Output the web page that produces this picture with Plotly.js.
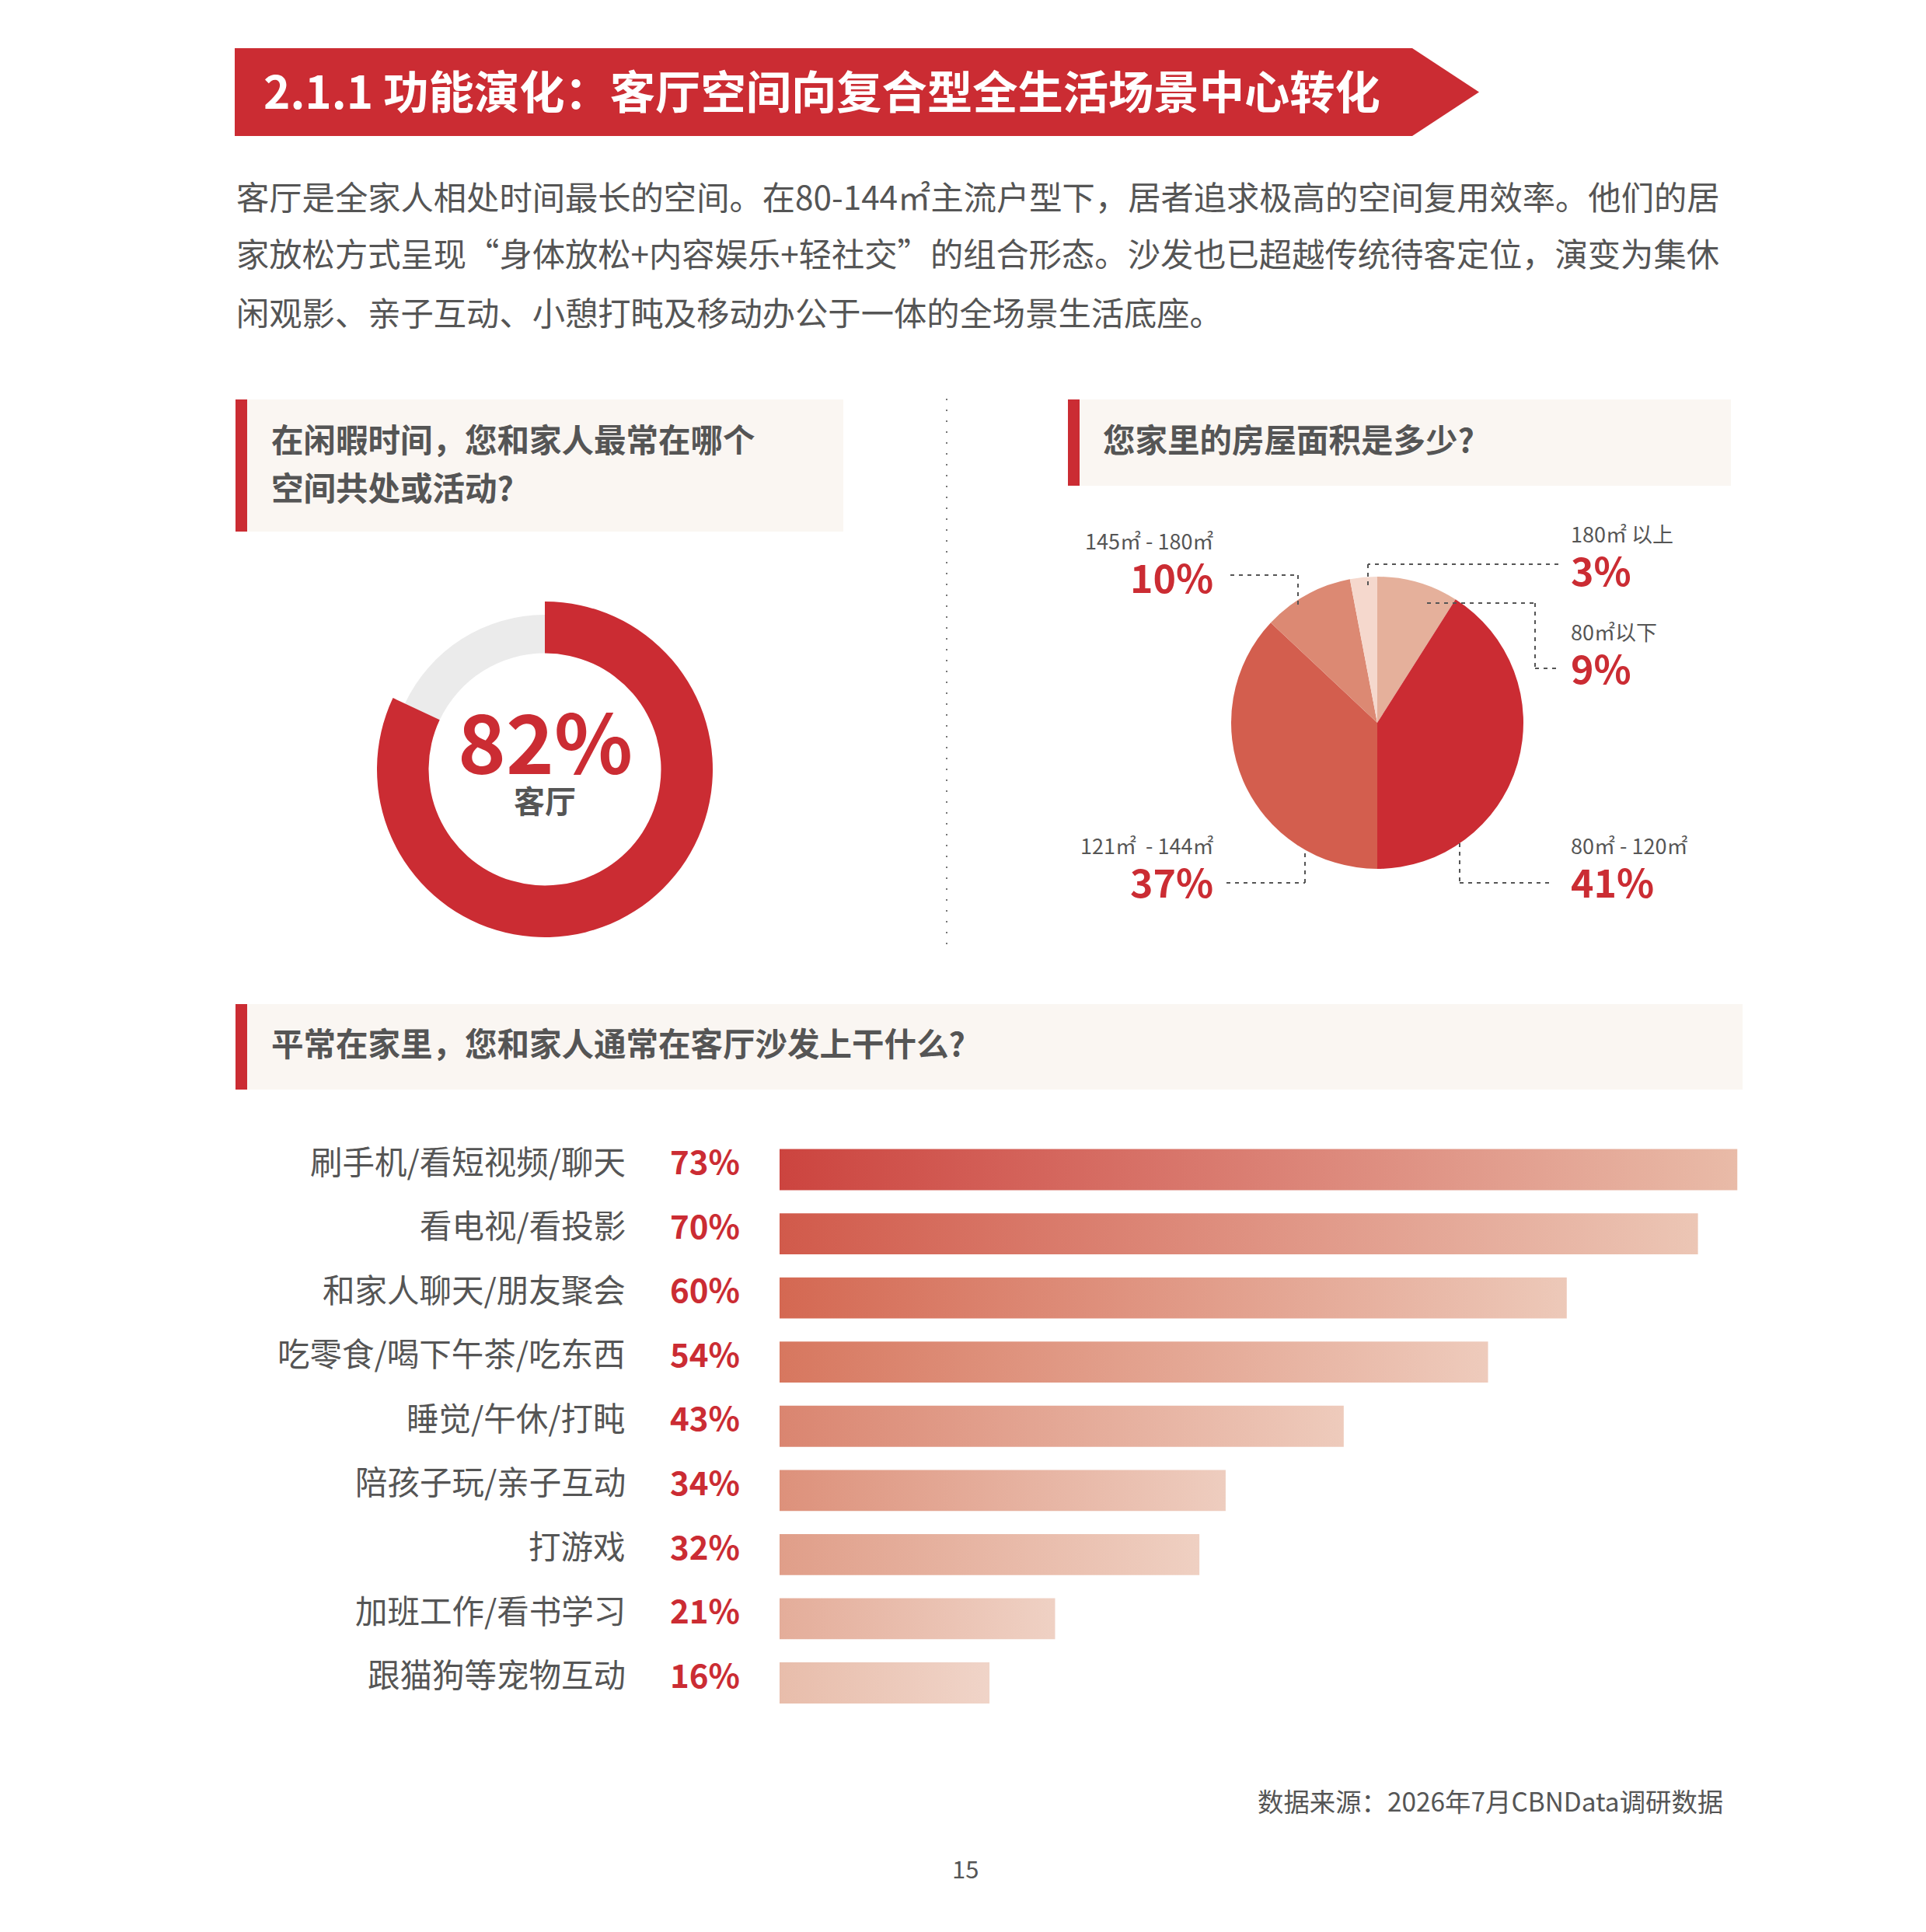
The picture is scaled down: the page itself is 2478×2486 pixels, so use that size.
<!DOCTYPE html>
<html>
<head>
<meta charset="utf-8">
<script src="https://cdn.plot.ly/plotly-3.0.1.min.js"></script>
<style>
  html, body { margin: 0; padding: 0; background: #fff; }
  #chart { width: 2478px; height: 2486px; }
</style>
</head>
<body>
<div id="chart"></div>
<script>
var W = 2478, H = 2486;
var FONT = '"Noto Sans CJK SC", "Noto Sans", sans-serif';
var RED = '#cb2c33';
var GREY_TEXT = '#555555';

// donut: share of families spending free time in the living room
var donutValue = 82;
var donutLabel = '客厅';

// pie: home size (clockwise from 12 o'clock)
var areaLabels = ['80㎡以下', '80㎡ - 120㎡', '121㎡  - 144㎡', '145㎡ - 180㎡', '180㎡ 以上'];
var areaValues = [9, 41, 37, 10, 3];
var areaColors = ['#e5b09b', '#cb2c33', '#d35e4e', '#dc8973', '#f5d8cd'];

// bars: what families do on the sofa
var activities = ['刷手机/看短视频/聊天', '看电视/看投影', '和家人聊天/朋友聚会', '吃零食/喝下午茶/吃东西',
  '睡觉/午休/打盹', '陪孩子玩/亲子互动', '打游戏', '加班工作/看书学习', '跟猫狗等宠物互动'];
var activityValues = [73, 70, 60, 54, 43, 34, 32, 21, 16];
var barStart = ['#cc443f', '#d15a4b', '#d46852', '#d7775f', '#da8570', '#dd917b', '#e09e89', '#e4ad9a', '#e8bdab'];
var barEnd = ['#e9bba8', '#ecc6b5', '#edc9b9', '#eecbbc', '#eecbbc', '#eecdbf', '#efd0c2', '#efd1c4', '#f0d4c8'];

function px(x) { return x / W; }
function py(y) { return 1 - y / H; }

var traces = [];

// donut: thin grey remainder + thick red arc
traces.push({
  type: 'pie', values: [donutValue, 100 - donutValue], sort: false, direction: 'clockwise',
  marker: { colors: ['rgba(0,0,0,0)', '#ebebeb'], line: { width: 0 } },
  hole: 149.5 / 199, textinfo: 'none', hoverinfo: 'skip',
  domain: { x: [px(701 - 199), px(701 + 199)], y: [py(990 + 199), py(990 - 199)] }
});
traces.push({
  type: 'pie', values: [donutValue, 100 - donutValue], sort: false, direction: 'clockwise',
  marker: { colors: [RED, 'rgba(0,0,0,0)'], line: { width: 0 } },
  hole: 149.5 / 216, textinfo: 'none', hoverinfo: 'skip',
  domain: { x: [px(701 - 216), px(701 + 216)], y: [py(990 + 216), py(990 - 216)] }
});

// pie
traces.push({
  type: 'pie', values: areaValues, labels: areaLabels, sort: false, direction: 'clockwise',
  marker: { colors: areaColors, line: { width: 0 } },
  textinfo: 'none', hoverinfo: 'skip',
  domain: { x: [px(1772 - 188), px(1772 + 188)], y: [py(930 + 188), py(930 - 188)] }
});

// gradient bars as filled shapes on the bar axes
var half = 0.32;
activityValues.forEach(function (v, i) {
  traces.push({
    type: 'scatter', mode: 'lines', xaxis: 'x', yaxis: 'y',
    x: [0, v, v, 0, 0],
    y: [i - half, i - half, i + half, i + half, i - half],
    fill: 'toself', line: { width: 0 }, hoverinfo: 'skip',
    fillgradient: { type: 'horizontal', colorscale: [[0, barStart[i]], [1, barEnd[i]]] }
  });
});

var shapes = [];
function rect(x0, y0, x1, y1, color) {
  shapes.push({ type: 'rect', xref: 'paper', yref: 'paper', x0: px(x0), x1: px(x1), y0: py(y1), y1: py(y0),
    fillcolor: color, line: { width: 0 }, layer: 'below' });
}
function seg(x0, y0, x1, y1, color, dash) {
  shapes.push({ type: 'line', xref: 'paper', yref: 'paper', x0: px(x0), x1: px(x1), y0: py(y0), y1: py(y1),
    line: { color: color, width: 2, dash: dash } });
}

// banner
shapes.push({
  type: 'path', xref: 'paper', yref: 'paper', fillcolor: RED, line: { width: 0 }, layer: 'below',
  path: 'M ' + px(302) + ',' + py(62) + ' L ' + px(1817) + ',' + py(62) + ' L ' + px(1903) + ',' + py(118.5) +
    ' L ' + px(1817) + ',' + py(175) + ' L ' + px(302) + ',' + py(175) + ' Z'
});

// question boxes
rect(303, 514, 1085, 684, '#faf6f2'); rect(303, 514, 318, 684, RED);
rect(1374, 514, 2227, 625, '#faf6f2'); rect(1374, 514, 1389, 625, RED);
rect(303, 1292, 2242, 1402, '#faf6f2'); rect(303, 1292, 318, 1402, RED);

// divider
seg(1218, 513, 1218, 1218, '#777777', '2px,12px');

// pie leaders
var LD = '5px,6px';
seg(1583, 740, 1670, 740, GREY_TEXT, LD); seg(1670, 740, 1670, 782, GREY_TEXT, LD);
seg(2005, 726, 1760, 726, GREY_TEXT, LD); seg(1760, 726, 1760, 757, GREY_TEXT, LD);
seg(1836, 776, 1975, 776, GREY_TEXT, LD); seg(1975, 776, 1975, 860, GREY_TEXT, LD); seg(1975, 860, 2005, 860, GREY_TEXT, LD);
seg(1578, 1136, 1679, 1136, GREY_TEXT, LD); seg(1679, 1136, 1679, 1093, GREY_TEXT, LD);
seg(1878, 1085, 1878, 1136, GREY_TEXT, LD); seg(1878, 1136, 1996, 1136, GREY_TEXT, LD);

var annotations = [];
function txt(s, x, y, size, color, anchor, bold) {
  annotations.push({ text: bold ? '<b>' + s + '</b>' : s, xref: 'paper', yref: 'paper', x: px(x), y: py(y),
    xanchor: anchor, yanchor: 'middle', showarrow: false, borderpad: 0,
    font: { family: FONT, size: size, color: color } });
}

txt('2.1.1 功能演化：客厅空间向复合型全生活场景中心转化', 338, 115, 58.3, '#ffffff', 'left', true);
txt('客厅是全家人相处时间最长的空间。在80-144㎡主流户型下，居者追求极高的空间复用效率。他们的居', 303, 251, 42.3, GREY_TEXT, 'left');
txt('家放松方式呈现“身体放松+内容娱乐+轻社交”的组合形态。沙发也已超越传统待客定位，演变为集休', 303, 325, 42.3, GREY_TEXT, 'left');
txt('闲观影、亲子互动、小憩打盹及移动办公于一体的全场景生活底座。', 303, 400, 42.3, GREY_TEXT, 'left');

txt('在闲暇时间，您和家人最常在哪个', 348, 564, 41.5, GREY_TEXT, 'left', true);
txt('空间共处或活动?', 348, 626, 41.5, GREY_TEXT, 'left', true);
txt('您家里的房屋面积是多少?', 1418, 564, 41.5, GREY_TEXT, 'left', true);
txt('平常在家里，您和家人通常在客厅沙发上干什么?', 348, 1341, 41.5, GREY_TEXT, 'left', true);

txt(donutValue + '%', 701, 950, 105, RED, 'center', true);
txt(donutLabel, 701, 1029, 40, GREY_TEXT, 'center', true);

// pie labels: [index, x, y, anchor]
var pieLabelPos = [[0, 2020, 812, 'left'], [1, 2020, 1087, 'left'], [2, 1562, 1087, 'right'],
  [3, 1562, 695, 'right'], [4, 2020, 686, 'left']];
pieLabelPos.forEach(function (p) {
  txt(areaLabels[p[0]], p[1], p[2], 27, GREY_TEXT, p[3]);
  txt(areaValues[p[0]] + '%', p[1], p[2] + 46, 50, RED, p[3], true);
});

activities.forEach(function (a, i) {
  annotations.push({ text: a, xref: 'paper', yref: 'y', x: px(806), y: i - 0.15, xanchor: 'right', yanchor: 'middle',
    showarrow: false, borderpad: 0, font: { family: FONT, size: 41.5, color: GREY_TEXT } });
  annotations.push({ text: '<b>' + activityValues[i] + '%</b>', xref: 'paper', yref: 'y', x: px(861), y: i - 0.15,
    xanchor: 'left', yanchor: 'middle', showarrow: false, borderpad: 0, font: { family: FONT, size: 42, color: RED } });
});

txt('数据来源：2026年7月CBNData调研数据', 2218, 2316, 33.4, GREY_TEXT, 'right');
txt('15', 1242, 2403, 31, GREY_TEXT, 'center');

var barScale = 16.88; // px per percent
var layout = {
  width: W, height: H,
  margin: { l: 0, r: 0, t: 0, b: 0 },
  paper_bgcolor: '#ffffff', plot_bgcolor: 'rgba(0,0,0,0)',
  showlegend: false,
  xaxis: { domain: [px(1003), px(1003 + 75 * barScale)], range: [0, 75], visible: false, fixedrange: true },
  yaxis: { domain: [py(2206.8), py(1463.7)], range: [8.5, -0.5], visible: false, fixedrange: true },
  shapes: shapes,
  annotations: annotations
};

Plotly.newPlot('chart', traces, layout, { displayModeBar: false, staticPlot: true });
</script>
</body>
</html>
